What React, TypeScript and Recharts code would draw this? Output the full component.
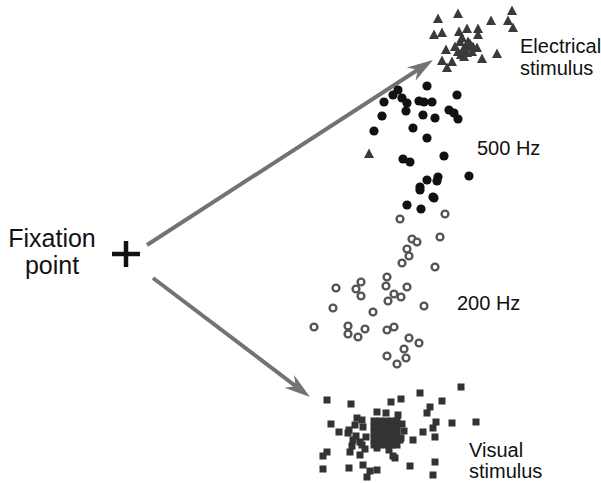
import {
  ScatterChart,
  Scatter,
  XAxis,
  YAxis,
  ReferenceLine,
  ReferenceDot,
} from "recharts";

// endpoint positions, in picture units (x right, y down)
const electrical: [number, number][] = [
  [438, 19], [458, 14], [491, 21], [512, 11], [508, 21], [513, 28],
  [434, 35], [442, 33], [459, 32], [467, 29], [478, 29], [478, 35],
  [460, 42], [468, 42], [473, 47], [477, 48], [463, 50], [458, 52],
  [467, 53], [446, 50], [497, 54], [482, 59], [442, 61], [452, 62],
  [447, 68], [462, 38], [466, 46], [470, 44], [455, 47], [461, 55],
  [472, 52], [464, 57], [369, 154],
];

const hz500: [number, number][] = [
  [398, 90], [427, 86], [457, 95], [393, 95], [402, 98], [407, 103],
  [384, 102], [419, 101], [424, 102], [432, 102], [406, 111], [382, 116],
  [423, 115], [435, 118], [449, 110], [454, 113], [458, 119], [374, 131],
  [413, 128], [427, 138], [403, 159], [410, 162], [444, 156], [469, 176],
  [427, 180], [420, 187], [438, 177], [437, 181], [433, 197], [420, 190],
  [434, 198], [407, 205], [421, 209],
];

const hz200: [number, number][] = [
  [400, 219], [445, 214], [440, 237], [412, 239], [417, 242], [407, 249],
  [409, 256], [402, 263], [435, 267], [387, 277], [386, 286], [407, 287],
  [361, 282], [336, 288], [356, 289], [361, 296], [394, 294], [401, 297],
  [388, 301], [424, 306], [333, 308], [373, 312], [314, 327], [348, 326],
  [348, 334], [365, 329], [358, 337], [387, 330], [394, 327], [409, 338],
  [419, 343], [404, 349], [387, 356], [406, 358], [397, 364],
];

const visual: [number, number][] = [
  [461, 387], [420, 393], [327, 400], [351, 404], [391, 402], [401, 399],
  [442, 401], [430, 407], [427, 413], [377, 412], [331, 424], [339, 432],
  [436, 422], [452, 423], [476, 422], [433, 428], [423, 432], [435, 437],
  [413, 440], [400, 440], [348, 433], [353, 440], [360, 442], [362, 420],
  [363, 427], [327, 452], [323, 456], [350, 452], [360, 455], [365, 449],
  [377, 448], [395, 458], [363, 465], [435, 462], [410, 466], [323, 469],
  [349, 468], [370, 471], [377, 470], [433, 475], [367, 477],
  [374, 421], [380, 421], [386, 421], [392, 421], [397, 421],
  [374, 427], [380, 427], [386, 427], [392, 427], [397, 427],
  [374, 433], [380, 433], [386, 433], [392, 433], [397, 433],
  [374, 439], [380, 439], [386, 439], [392, 439], [397, 439],
  [374, 445], [380, 445], [386, 445], [392, 445], [397, 445],
  [357, 418], [355, 425], [349, 430], [356, 436], [362, 445], [352, 446],
  [366, 437], [402, 424], [404, 431], [401, 438], [398, 415], [386, 413],
  [389, 450], [393, 456],
];

const arrows = [
  { from: [147, 245], to: [433, 60] },
  { from: [153, 278], to: [310, 397] },
];

const labels = [
  { x: 520, y: 53, text: "Electrical", size: 20, anchor: "start" },
  { x: 520, y: 75, text: "stimulus", size: 20, anchor: "start" },
  { x: 477, y: 155, text: "500 Hz", size: 20, anchor: "start" },
  { x: 457, y: 310, text: "200 Hz", size: 20, anchor: "start" },
  { x: 469, y: 457, text: "Visual", size: 20, anchor: "start" },
  { x: 469, y: 478, text: "stimulus", size: 20, anchor: "start" },
  { x: 52, y: 247, text: "Fixation", size: 25, anchor: "middle" },
  { x: 52, y: 274, text: "point", size: 25, anchor: "middle" },
];

const fixation = [126, 254];

const toPts = (arr: [number, number][]) => arr.map(([x, y]) => ({ x, y }));

const Triangle = (p: any) => (
  <polygon
    points={`${p.cx},${p.cy - 5.5} ${p.cx - 5},${p.cy + 4} ${p.cx + 5},${p.cy + 4}`}
    fill="#3a3a3a"
  />
);
const Dot = (p: any) => <circle cx={p.cx} cy={p.cy} r={4.6} fill="#111" />;
const Ring = (p: any) => (
  <circle cx={p.cx} cy={p.cy} r={3.4} fill="#fff" stroke="#555" strokeWidth={2.4} />
);
const Square = (p: any) => (
  <rect x={p.cx - 3.5} y={p.cy - 3.5} width={7} height={7} fill="#333" />
);

const Arrow = (p: any) => {
  const { x1, y1, x2, y2 } = p;
  const dx = x2 - x1;
  const dy = y2 - y1;
  const len = Math.sqrt(dx * dx + dy * dy);
  const ux = dx / len;
  const uy = dy / len;
  const hl = 26;
  const hw = 8;
  const bx = x2 - ux * hl;
  const by = y2 - uy * hl;
  const nx = x2 - ux * (hl - 8);
  const ny = y2 - uy * (hl - 8);
  return (
    <g>
      <line x1={x1} y1={y1} x2={nx} y2={ny} stroke="#737373" strokeWidth={4} />
      <polygon
        points={`${x2},${y2} ${bx - uy * hw},${by + ux * hw} ${nx},${ny} ${bx + uy * hw},${by - ux * hw}`}
        fill="#737373"
      />
    </g>
  );
};

export default function App() {
  return (
    <div style={{ position: "absolute", left: 0, top: 0, background: "#fff" }}>
      <ScatterChart width={601} height={483} margin={{ top: 0, right: 0, bottom: 0, left: 0 }}>
        <XAxis type="number" dataKey="x" domain={[0, 601]} hide />
        <YAxis type="number" dataKey="y" domain={[0, 483]} reversed hide />
        {arrows.map((a, i) => (
          <ReferenceLine
            key={i}
            segment={[
              { x: a.from[0], y: a.from[1] },
              { x: a.to[0], y: a.to[1] },
            ]}
            ifOverflow="visible"
            shape={Arrow}
          />
        ))}
        <Scatter data={toPts(hz200)} shape={Ring} isAnimationActive={false} />
        <Scatter data={toPts(hz500)} shape={Dot} isAnimationActive={false} />
        <Scatter data={toPts(electrical)} shape={Triangle} isAnimationActive={false} />
        <Scatter data={toPts(visual)} shape={Square} isAnimationActive={false} />
        <ReferenceDot
          x={fixation[0]}
          y={fixation[1]}
          ifOverflow="visible"
          shape={(p: any) => (
            <g stroke="#111" strokeWidth={4.5}>
              <line x1={p.cx - 14} y1={p.cy} x2={p.cx + 14} y2={p.cy} />
              <line x1={p.cx} y1={p.cy - 13} x2={p.cx} y2={p.cy + 13} />
            </g>
          )}
        />
        {labels.map((l, i) => (
          <ReferenceDot
            key={"l" + i}
            x={l.x}
            y={l.y}
            ifOverflow="visible"
            shape={(p: any) => (
              <text
                x={p.cx}
                y={p.cy}
                textAnchor={l.anchor}
                fontSize={l.size}
                fontFamily="Liberation Sans, Arial, sans-serif"
                fill="#111"
              >
                {l.text}
              </text>
            )}
          />
        ))}
      </ScatterChart>
    </div>
  );
}
